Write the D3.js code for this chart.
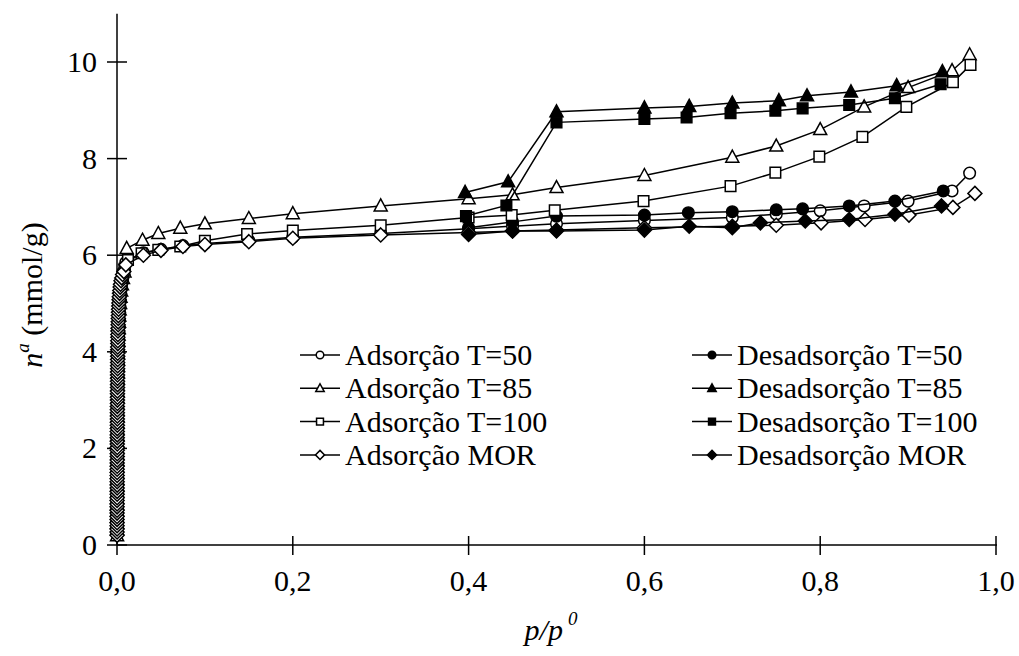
<!DOCTYPE html>
<html>
<head>
<meta charset="utf-8">
<script src="https://cdn.jsdelivr.net/npm/d3@7"></script>
<style>
  body { margin: 0; background: #fff; }
  text { font-family: "Liberation Serif", "Times New Roman", serif; fill: #000; }
</style>
</head>
<body>
<div id="chart"></div>
<script>
// tick labels
var xTicks = [0, 0.2, 0.4, 0.6, 0.8, 1.0]
var yTicks = [0, 2, 4, 6, 8, 10]

// relative pressures of the packed low-pressure points (near p/p0 = 0)
var lowP = [0.0001,0.0001,0.0001,0.0001,0.0002,0.0002,0.0002,0.0002,0.0003,0.0003,0.0003,0.0003,0.0004,0.0004,0.0004,0.0004,0.0005,0.0005,0.0005,0.0006,0.0006,0.0006,0.0007,0.0007,0.0008,0.0008,0.0009,0.001,0.0011,0.0012,0.0014,0.0016,0.0018,0.002,0.0023,0.0026,0.003,0.0035,0.004,0.0047,0.0056,0.0068,0.0085]

// Adsorção T=50
var ads50_lowN = [0.25,0.38,0.51,0.64,0.77,0.9,1.03,1.16,1.29,1.42,1.55,1.68,1.81,1.94,2.07,2.2,2.33,2.46,2.59,2.72,2.85,2.98,3.11,3.24,3.37,3.5,3.63,3.76,3.89,4.02,4.15,4.28,4.41,4.54,4.67,4.8,4.93,5.06,5.19,5.32,5.45,5.58,5.7]
var ads50_p = [0.01,0.03,0.05,0.075,0.1,0.15,0.2,0.3,0.4,0.45,0.5,0.6,0.7,0.75,0.8,0.85,0.9,0.95,0.97]
var ads50_n = [5.85,6.05,6.12,6.2,6.24,6.3,6.37,6.45,6.55,6.6,6.65,6.72,6.78,6.85,6.92,7.02,7.12,7.33,7.7]
// Desadsorção T=50
var des50_p = [0.94,0.885,0.833,0.78,0.75,0.7,0.65,0.6,0.5,0.45,0.4]
var des50_n = [7.33,7.12,7.02,6.96,6.94,6.9,6.88,6.83,6.81,6.69,6.57]
// Adsorção T=85
var ads85_lowN = [0.19,0.32,0.45,0.58,0.71,0.84,0.97,1.1,1.23,1.36,1.49,1.62,1.75,1.88,2.01,2.14,2.27,2.4,2.53,2.66,2.79,2.92,3.05,3.18,3.31,3.44,3.57,3.7,3.83,3.96,4.09,4.22,4.35,4.48,4.61,4.74,4.87,5.0,5.13,5.26,5.39,5.52,5.65]
var ads85_p = [0.011,0.029,0.047,0.072,0.1,0.15,0.2,0.3,0.4,0.45,0.5,0.6,0.7,0.75,0.8,0.85,0.9,0.95,0.97]
var ads85_n = [6.14,6.31,6.45,6.56,6.65,6.76,6.86,7.02,7.17,7.25,7.4,7.65,8.03,8.26,8.6,9.07,9.47,9.82,10.15]
// Desadsorção T=85
var des85_p = [0.939,0.887,0.835,0.785,0.753,0.7,0.651,0.6,0.5,0.445,0.396]
var des85_n = [9.8,9.51,9.38,9.3,9.2,9.15,9.08,9.05,8.97,7.52,7.3]
// Adsorção T=100
var ads100_lowN = [0.29,0.42,0.55,0.68,0.81,0.94,1.07,1.2,1.33,1.46,1.59,1.72,1.85,1.98,2.11,2.24,2.37,2.5,2.63,2.76,2.89,3.02,3.15,3.28,3.41,3.54,3.67,3.8,3.93,4.06,4.19,4.32,4.45,4.58,4.71,4.84,4.97,5.1,5.23,5.36,5.49,5.6,5.72]
var ads100_p = [0.0125,0.028,0.047,0.072,0.1,0.148,0.2,0.3,0.4,0.449,0.498,0.599,0.698,0.749,0.799,0.848,0.898,0.951,0.971]
var ads100_n = [5.9,6.04,6.11,6.18,6.3,6.44,6.51,6.62,6.78,6.83,6.93,7.12,7.43,7.71,8.04,8.45,9.07,9.58,9.94]
// Desadsorção T=100
var des100_p = [0.937,0.885,0.833,0.78,0.749,0.698,0.648,0.6,0.5,0.443,0.397]
var des100_n = [9.54,9.25,9.11,9.04,8.99,8.94,8.85,8.82,8.75,7.03,6.81]
// Adsorção MOR (denser low-pressure points)
var adsMOR_lowP = [
  0.0001,0.0001,0.0001,0.0001,0.0001,0.0001,0.0001,0.0001,0.0001,0.0001,
  0.0001,0.0001,0.0002,0.0002,0.0002,0.0002,0.0002,0.0002,0.0002,0.0002,
  0.0002,0.0002,0.0002,0.0002,0.0003,0.0003,0.0003,0.0003,0.0003,0.0003,
  0.0003,0.0003,0.0003,0.0003,0.0004,0.0004,0.0004,0.0004,0.0004,0.0004,
  0.0004,0.0004,0.0005,0.0005,0.0005,0.0005,0.0005,0.0006,0.0006,0.0006,
  0.0006,0.0006,0.0006,0.0007,0.0007,0.0007,0.0007,0.0008,0.0008,0.0008,
  0.0008,0.0009,0.0009,0.001,0.001,0.0011,0.0012,0.0013,0.0014,0.0015,
  0.0016,0.0017,0.0018,0.002,0.0022,0.0024,0.0026,0.0029,0.0032,0.0036,
  0.004,0.0046,0.0054,0.0064,0.0078]
var adsMOR_lowN = [
  0.2,0.27,0.33,0.4,0.46,0.53,0.59,0.66,0.72,0.79,
  0.85,0.92,0.98,1.05,1.11,1.18,1.24,1.31,1.37,1.44,
  1.5,1.57,1.63,1.7,1.76,1.83,1.89,1.96,2.02,2.09,
  2.15,2.22,2.28,2.35,2.41,2.48,2.54,2.61,2.67,2.74,
  2.8,2.87,2.93,3.0,3.06,3.13,3.19,3.26,3.32,3.39,
  3.45,3.52,3.58,3.65,3.71,3.78,3.84,3.91,3.97,4.04,
  4.1,4.17,4.23,4.3,4.36,4.43,4.49,4.56,4.62,4.69,
  4.75,4.82,4.88,4.95,5.01,5.08,5.14,5.21,5.27,5.34,
  5.4,5.47,5.53,5.6,5.66]
var adsMOR_p = [0.01,0.03,0.05,0.075,0.1,0.15,0.2,0.3,0.4,0.45,0.5,0.6,0.7,0.75,0.801,0.851,0.901,0.951,0.976]
var adsMOR_n = [5.8,6.0,6.1,6.18,6.22,6.28,6.35,6.42,6.47,6.5,6.52,6.57,6.6,6.62,6.67,6.74,6.83,6.99,7.28]
// Desadsorção MOR
var desMOR_p = [0.938,0.885,0.833,0.783,0.732,0.7,0.651,0.6,0.5,0.45,0.4]
var desMOR_n = [7.02,6.85,6.74,6.71,6.67,6.57,6.6,6.52,6.5,6.5,6.43]

var seriesNames = ["Adsorção T=50","Desadsorção T=50","Adsorção T=85","Desadsorção T=85",
                   "Adsorção T=100","Desadsorção T=100","Adsorção MOR","Desadsorção MOR"]
var seriesP = [lowP.concat(ads50_p), des50_p, lowP.concat(ads85_p), des85_p,
               lowP.concat(ads100_p), des100_p, adsMOR_lowP.concat(adsMOR_p), desMOR_p]
var seriesN = [ads50_lowN.concat(ads50_n), des50_n, ads85_lowN.concat(ads85_n), des85_n,
               ads100_lowN.concat(ads100_n), des100_n, adsMOR_lowN.concat(adsMOR_n), desMOR_n]
var shapes = ["circle","circle","triangle","triangle","square","square","diamond","diamond"]
var filled = [false,true,false,true,false,true,false,true]

var W = 1019, H = 656
var FS = "30px"
var svg = d3.select("#chart").append("svg")
  .attr("width", W).attr("height", H)

var x = d3.scaleLinear().domain([0, 1]).range([117, 996])
var y = d3.scaleLinear().domain([0, 11]).range([545, 13.7])

// marker path, s = scale
function markerPath(shape, s){
  if (shape == "circle") {
    var r = 5.8*s
    return "M" + (-r) + ",0A" + r + "," + r + " 0 1,0 " + r + ",0A" + r + "," + r + " 0 1,0 " + (-r) + ",0Z"
  }
  if (shape == "square") { var h = 5.3*s; return "M"+(-h)+","+(-h)+"H"+h+"V"+h+"H"+(-h)+"Z" }
  if (shape == "triangle") { var w = 6.5*s; return "M0,"+(-7*s)+"L"+w+","+(5*s)+"L"+(-w)+","+(5*s)+"Z" }
  var d = 7*s
  return "M0,"+(-d)+"L"+d+",0L0,"+d+"L"+(-d)+",0Z"
}

// axes
var xAxis = svg.append("g").attr("transform", "translate(0,545)")
xAxis.append("line").attr("x1", 117).attr("x2", 997).attr("stroke", "#000").attr("stroke-width", 1.5)
xAxis.selectAll("line.tk").data(xTicks).enter().append("line")
  .attr("class", "tk")
  .attr("x1", function(d){ return x(d) }).attr("x2", function(d){ return x(d) })
  .attr("y1", -9).attr("y2", 10)
  .attr("stroke", "#000").attr("stroke-width", 1.5)
xAxis.selectAll("text").data(xTicks).enter().append("text")
  .attr("x", function(d){ return x(d) }).attr("y", 46)
  .attr("text-anchor", "middle").style("font-size", FS)
  .text(function(d){ return d3.format(".1f")(d).replace(".", ",") })

var yAxis = svg.append("g")
yAxis.append("line").attr("x1", 117).attr("x2", 117).attr("y1", 545).attr("y2", y(11))
  .attr("stroke", "#000").attr("stroke-width", 1.5)
yAxis.selectAll("line.tk").data(yTicks).enter().append("line")
  .attr("class", "tk")
  .attr("x1", 107).attr("x2", 127)
  .attr("y1", function(d){ return y(d) }).attr("y2", function(d){ return y(d) })
  .attr("stroke", "#000").attr("stroke-width", 1.5)
yAxis.selectAll("text").data(yTicks).enter().append("text")
  .attr("x", 97).attr("y", function(d){ return y(d) + 10 })
  .attr("text-anchor", "end").style("font-size", FS)
  .text(function(d){ return d })

// series
var line = d3.line().x(function(d){ return x(d[0]) }).y(function(d){ return y(d[1]) })
seriesNames.forEach(function(name, i){
  var pts = seriesP[i].map(function(p, j){ return [p, seriesN[i][j]] })
  svg.append("path").datum(pts)
    .attr("d", line).attr("fill", "none")
    .attr("stroke", "#000").attr("stroke-width", 1.5)
  svg.selectAll("m" + i).data(pts).enter().append("path")
    .attr("transform", function(d){ return "translate(" + x(d[0]) + "," + y(d[1]) + ")" })
    .attr("d", markerPath(shapes[i], 1))
    .attr("fill", filled[i] ? "#000" : "#fff")
    .attr("stroke", "#000").attr("stroke-width", 1.5)
})

// legend
var legend = svg.append("g")
seriesNames.forEach(function(name, i){
  var col = i % 2, row = Math.floor(i / 2)
  var lx = col == 0 ? 300 : 692
  var ly = 355 + row * 33.3
  legend.append("line").attr("x1", lx).attr("x2", lx + 40).attr("y1", ly).attr("y2", ly)
    .attr("stroke", "#000").attr("stroke-width", 1.5)
  legend.append("path")
    .attr("transform", "translate(" + (lx + 20) + "," + ly + ")")
    .attr("d", markerPath(shapes[i], 0.65))
    .attr("fill", filled[i] ? "#000" : "#fff")
    .attr("stroke", "#000").attr("stroke-width", 1.5)
  legend.append("text").attr("x", lx + 45).attr("y", ly + 10)
    .style("font-size", FS).text(name)
})

// axis titles
var yt = svg.append("text")
  .attr("transform", "translate(42,295) rotate(-90)")
  .attr("text-anchor", "middle").style("font-size", FS)
yt.append("tspan").style("font-style", "italic").text("n")
yt.append("tspan").style("font-style", "italic").style("font-size", "19px").attr("dy", -13).text("a")
yt.append("tspan").attr("dy", 13).text(" (mmol/g)")

var xt = svg.append("text")
  .attr("x", 551).attr("y", 640)
  .attr("text-anchor", "middle").style("font-size", FS).style("font-style", "italic")
xt.append("tspan").text("p/p")
xt.append("tspan").style("font-size", "19px").attr("dy", -15).attr("dx", 5).text("0")
</script>
</body>
</html>
